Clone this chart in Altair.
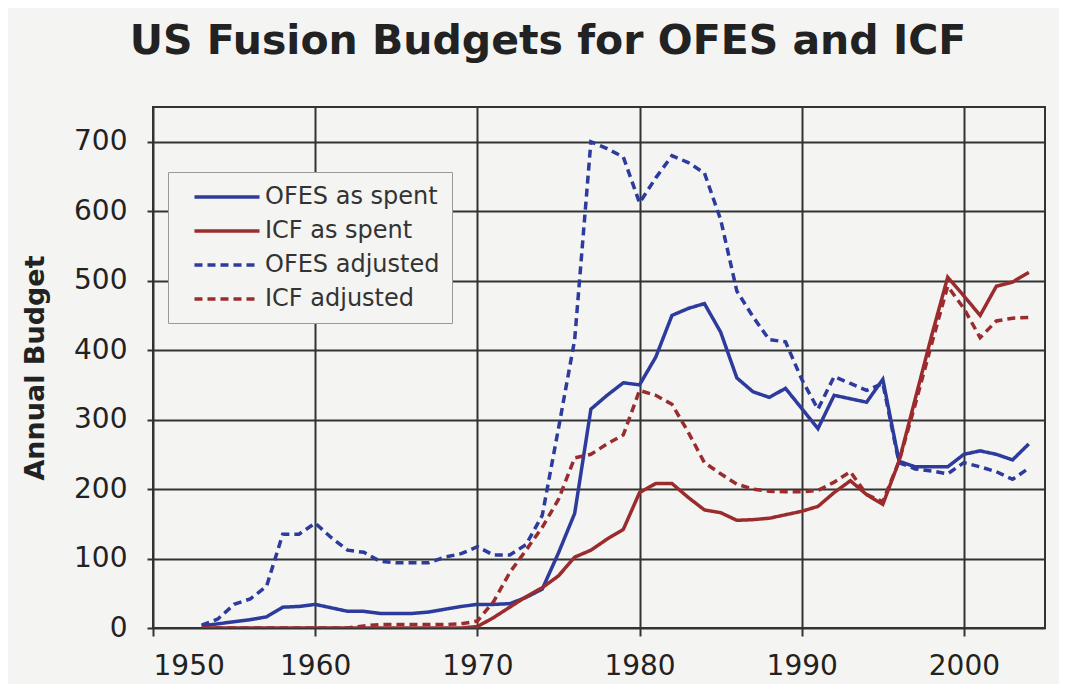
import altair as alt
import pandas as pd

years = list(range(1953, 2005))

ofes_spent = [3, 6, 9, 12, 16, 30, 31,
              34, 29, 24, 24, 21, 21, 21, 23, 27, 31,
              34, 34, 35, 44, 56, 108, 165, 315, 335, 353,
              350, 390, 450, 460, 467, 426, 360, 340, 332, 345,
              316, 287, 335, 330, 325, 358, 240, 232, 232, 232,
              250, 255, 250, 242, 265]

icf_spent = [0, 0, 0, 0, 0, 0, 0,
             0, 0, 0, 0, 0, 0, 0, 0, 0, 0,
             2, 15, 30, 45, 58, 75, 102, 112, 128, 142,
             195, 208, 208, 188, 170, 166, 155, 156, 158, 163,
             168, 175, 195, 212, 192, 178, 240, 330, 420, 505,
             478, 450, 492, 498, 512]

ofes_adj = [4, 13, 34, 42, 60, 135, 135,
            151, 130, 112, 109, 96, 94, 94, 94, 102, 107,
            117, 105, 105, 120, 162, 287, 415, 700, 690, 678,
            612, 648, 680, 670, 655, 588, 485, 448, 415, 412,
            358, 315, 362, 352, 342, 352, 238, 229, 226, 222,
            238, 232, 225, 214, 230]

icf_adj = [0, 0, 0, 0, 0, 0, 0,
           0, 0, 0, 3, 5, 5, 5, 5, 5, 6,
           10, 38, 80, 112, 145, 185, 245, 250, 265, 278,
           342, 335, 322, 282, 238, 222, 207, 200, 197, 196,
           196, 198, 210, 225, 192, 182, 240, 322, 408, 492,
           460, 418, 442, 446, 447]

series_names = ["OFES as spent", "ICF as spent", "OFES adjusted", "ICF adjusted"]
series_colors = ["#2c3b9c", "#9a2c2e", "#2c3b9c", "#9a2c2e"]
series_dashes = [[1, 0], [1, 0], [8, 5], [8, 5]]

x_ticks = [1950, 1960, 1970, 1980, 1990, 2000]
y_ticks = [0, 100, 200, 300, 400, 500, 600, 700]

rows = []
for name, vals in zip(series_names, [ofes_spent, icf_spent, ofes_adj, icf_adj]):
    for yr, v in zip(years, vals):
        rows.append({"Year": yr, "Budget": v, "Series": name})
df = pd.DataFrame(rows)

FONT = "DejaVu Sans"
GRID = "#333333"
BG = "#f4f4f2"

legend = alt.Legend(
    title=None,
    orient="none",
    legendX=15,
    legendY=65,
    fillColor=BG,
    strokeColor="#9a9a9a",
    padding=12,
    symbolType="M-3,0H3",
    symbolSize=470,
    symbolStrokeWidth=3.5,
    symbolFillColor="transparent",
    symbolOffset=34,
    labelFont=FONT,
    labelFontSize=24,
    labelColor="#333333",
    labelOffset=25,
    labelLimit=400,
    rowPadding=9,
)

chart = alt.Chart(df).mark_line(strokeWidth=3.5, clip=True).encode(
    x=alt.X(
        "Year:Q",
        scale=alt.Scale(domain=[1950, 2005], nice=False, zero=False),
        axis=alt.Axis(
            values=x_ticks, format="d", title=None, grid=True,
            gridColor=GRID, gridWidth=2, gridOpacity=1,
            domain=False, ticks=True, tickSize=8, tickColor=GRID, tickWidth=2,
            labelFont=FONT, labelFontSize=28, labelColor="#222222",
            labelPadding=16,
        ),
    ),
    y=alt.Y(
        "Budget:Q",
        scale=alt.Scale(domain=[0, 750], nice=False),
        axis=alt.Axis(
            values=y_ticks, title="Annual Budget", grid=True,
            gridColor=GRID, gridWidth=2, gridOpacity=1,
            domain=False, ticks=True, tickSize=6, tickColor=GRID, tickWidth=2,
            labelFont=FONT, labelFontSize=28, labelColor="#222222",
            labelPadding=20,
            titleFont=FONT, titleFontSize=27, titleFontWeight="bold",
            titleColor="#222222", titlePadding=24,
        ),
    ),
    color=alt.Color("Series:N", scale=alt.Scale(domain=series_names, range=series_colors), legend=legend),
    strokeDash=alt.StrokeDash("Series:N", scale=alt.Scale(domain=series_names, range=series_dashes), legend=legend),
).properties(
    width=892,
    height=521,
    title=alt.Title(
        "US Fusion Budgets for OFES and ICF",
        font=FONT, fontSize=41, fontWeight="bold", color="#222222",
        anchor="middle", dx=-51, offset=44,
    ),
    autosize=alt.AutoSizeParams(type="none"),
    padding={"left": 145, "top": 99, "right": 14, "bottom": 56},
    background=BG,
).configure_view(
    stroke=GRID, strokeWidth=2,
)

chart.save("out.html", embed_options={"renderer": "svg", "actions": False})
